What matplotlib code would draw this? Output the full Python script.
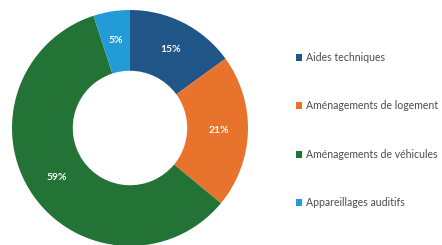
import matplotlib
matplotlib.use("Agg")
import matplotlib.pyplot as plt

# Data
categories = ["Aides techniques", "Aménagements de logement",
              "Aménagements de véhicules", "Appareillages auditifs"]
shares = [15, 21, 59, 5]
colors = ["#1f5587", "#e8732d", "#237337", "#239bd7"]

plt.rcParams['font.family'] = ['Lato', 'DejaVu Sans']

fig = plt.figure(figsize=(4.42, 2.45), dpi=100)
ax = fig.add_axes([12 / 442, -1 / 245, 236 / 442, 236 / 245])

wedges, texts, autotexts = ax.pie(
    shares, colors=colors, startangle=90, counterclock=False,
    autopct=lambda p: f"{p:.0f}%", pctdistance=0.75,
    wedgeprops=dict(width=0.515, linewidth=0),
    textprops=dict(color="white", fontsize=7.5, fontweight="bold"))
ax.set_xlim(-1, 1)
ax.set_ylim(-1, 1)
ax.set_aspect("equal")

# Legend on the right
fig.legend(wedges, categories, loc="upper left",
           bbox_to_anchor=(296 / 442, 1 - 52 / 245),
           frameon=False, fontsize=7.6, labelcolor="#4d4d4d",
           handlelength=0.6, handleheight=0.6, handletextpad=0.3,
           labelspacing=3.55, borderpad=0, borderaxespad=0)

plt.savefig("out.png", dpi=100)
